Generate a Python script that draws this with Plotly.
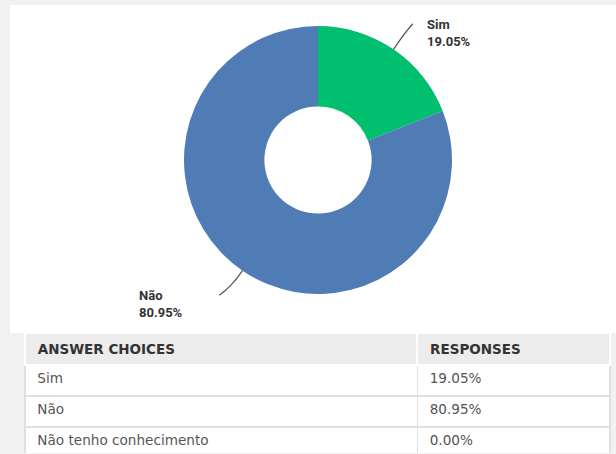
import math
import plotly.graph_objects as go

# Survey results
choices = ["Sim", "Não", "Não tenho conhecimento"]
shares = [19.05, 80.95, 0.00]
slice_colors = ["#00bf6f", "#507cb6", "#f7b500"]
header_labels = ["ANSWER CHOICES", "RESPONSES"]

W, H = 616, 454
CX, CY, R = 318, 160, 134          # donut centre / radius in pixels
HOLE = 0.40

def px(x):
    return x / W

def py(y):
    return 1 - y / H

fig = go.Figure()

# white panel behind the chart
fig.add_shape(type="rect", xref="paper", yref="paper",
              x0=px(10), x1=px(616), y0=py(333), y1=py(5),
              fillcolor="white", line_width=0, layer="below")

fig.add_trace(go.Pie(
    labels=choices, values=shares, sort=False, direction="clockwise",
    rotation=0, hole=HOLE, textinfo="none", hoverinfo="label+percent",
    marker=dict(colors=slice_colors, line=dict(width=0)),
    domain=dict(x=[px(CX - R), px(CX + R)], y=[py(CY + R), py(CY - R)]),
    showlegend=False,
))

# outside labels with leader lines at each slice's mid-angle
total = sum(shares)
start = 0.0
for name, v in zip(choices, shares):
    frac = v / total
    if frac <= 0:
        continue
    mid = (start + frac / 2) * 2 * math.pi
    start += frac
    sx, sy = math.sin(mid), -math.cos(mid)
    ex, ey = CX + R * sx, CY + R * sy
    qx, qy = CX + (R + 20) * sx, CY + (R + 20) * sy
    right = sx >= 0
    tx = qx + (8 if right else -12)
    ty = qy + (-9 if sy < 0 else 8)
    fig.add_shape(type="path", xref="paper", yref="paper",
                  path=f"M {px(ex)},{py(ey)} Q {px(qx)},{py(qy)} {px(tx)},{py(ty)}",
                  line=dict(color="#555555", width=1.2))
    fig.add_annotation(
        xref="paper", yref="paper",
        x=px(tx + 12) if right else px(tx - 82),
        y=py(ty - 9),
        xanchor="left", yanchor="top",
        align="left", showarrow=False,
        text=f"<b>{name}<br>{v:.2f}%</b>",
        font=dict(family="Roboto", size=13, color="#333333"),
    )

# results table
fig.add_trace(go.Table(
    domain=dict(x=[px(25), px(610)], y=[0, py(333)]),
    columnwidth=[391, 192],
    header=dict(
        values=[f"<b> {h}</b>" for h in header_labels],
        fill_color="#ececec", line=dict(color="white", width=2),
        align="left", height=22,
        font=dict(family="DejaVu Sans", size=13.5, color="#333333"),
    ),
    cells=dict(
        values=[[f" {c}" for c in choices], [f" {v:.2f}%" for v in shares]],
        fill_color="white", line=dict(color="#e0e0e0", width=1.5),
        align="left", height=31,
        font=dict(family="DejaVu Sans", size=13.6, color="#555555"),
    ),
))

fig.update_layout(
    width=W, height=H, margin=dict(l=0, r=0, t=0, b=0),
    paper_bgcolor="#f1f1f1", plot_bgcolor="#f1f1f1",
)

fig.write_html("out.html")
